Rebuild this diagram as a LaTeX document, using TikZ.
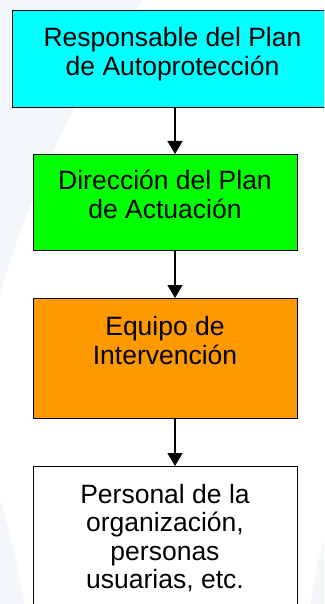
\documentclass[tikz,border=0pt]{standalone}
\usepackage{fontspec}
\setmainfont{Liberation Sans}
\usetikzlibrary{arrows.meta}
\definecolor{bgswoosh}{HTML}{F3F6FA}
\definecolor{boxcyan}{HTML}{00FFFF}
\definecolor{boxgreen}{HTML}{00FF00}
\definecolor{boxorange}{HTML}{FF9900}
\tikzset{
  box/.style={draw=black, line width=1.4pt, rectangle, anchor=north west, inner sep=0pt},
  lbl/.style={anchor=base, align=center, inner sep=0pt, font=\fontsize{26.5}{28.5}\selectfont},
  conn/.style={line width=1.3pt, -{Triangle[width=15pt,length=13pt]}}
}
\begin{document}
\begin{tikzpicture}[x=1pt,y=-1pt]
\useasboundingbox (0,0) rectangle (324,604);
\clip (0,0) rectangle (324,604);
\fill[white] (0,0) rectangle (324,604);
% faint background swooshes
\fill[bgswoosh] (0,0) -- (143,0) .. controls (90,70) and (40,160) .. (0,293) -- cycle;
\fill[bgswoosh] (0,500) .. controls (10,530) and (18,570) .. (24,604) -- (0,604) -- cycle;
\fill[bgswoosh] (324,540) .. controls (318,560) and (313,585) .. (311,604) -- (324,604) -- cycle;
% boxes
\node[box, fill=boxcyan, minimum width=321pt, minimum height=97pt] (b1) at (12,10) {};
\node[box, fill=boxgreen, minimum width=264pt, minimum height=96pt] (b2) at (33,154) {};
\node[box, fill=boxorange, minimum width=264pt, minimum height=120pt] (b3) at (33,298) {};
\node[box, fill=white, minimum width=264pt, minimum height=160pt] (b4) at (33,466) {};
% texts (base anchor = baseline of last line)
\node[lbl] (t1) at (172.5,75.5) {Responsable del Plan\\de Autoprotección};
\node[lbl] (t2) at (165,218) {Dirección del Plan\\de Actuación};
\node[lbl] (t3) at (165,364) {Equipo de\\Intervención};
\node[lbl] (t4) at (165,588.5) {Personal de la\\organización,\\personas\\usuarias, etc.};
% connectors
\coordinate (ax) at (175,0);
\draw[conn] (b1.south -| ax) -- (b2.north -| ax);
\draw[conn] (b2.south -| ax) -- (b3.north -| ax);
\draw[conn] (b3.south -| ax) -- (b4.north -| ax);
\end{tikzpicture}
\end{document}
